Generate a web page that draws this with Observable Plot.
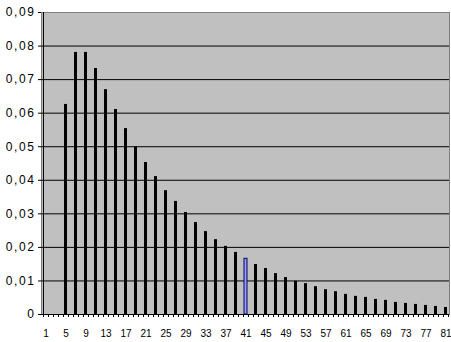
<!DOCTYPE html>
<html>
<head>
<meta charset="utf-8">
<script src="https://cdn.jsdelivr.net/npm/d3@7"></script>
<script src="https://cdn.jsdelivr.net/npm/@observablehq/plot@0.6"></script>
<style>
  html, body { margin: 0; padding: 0; background: white; }
  #chart { width: 451px; height: 342px; }
  .ylab text { letter-spacing: 1.6px; }
</style>
</head>
<body>
<div id="chart"></div>
<script>
const categories = d3.range(1, 82);
const xLabels = [1,5,9,13,17,21,25,29,33,37,41,45,49,53,57,61,65,69,73,77,81];
const yTicks = [0,0.01,0.02,0.03,0.04,0.05,0.06,0.07,0.08,0.09];
const gridValues = [0.01,0.02,0.03,0.04,0.05,0.06,0.07,0.08];
const xs = [5,7,9,11,13,15,17,19,21,23,25,27,29,31,33,35,37,39,41,43,45,47,49,51,53,55,57,59,61,63,65,67,69,71,73,75,77,79,81];
const ys = [0.0626,0.0781,0.0781,0.0733,0.0670,0.0611,0.0554,0.0499,0.0453,0.0411,
            0.0369,0.0337,0.0304,0.0274,0.0247,0.0223,0.0203,0.0185,0.0166,0.0149,
            0.0137,0.0122,0.0110,0.0099,0.0092,0.0083,0.0074,0.0068,0.0060,0.0054,
            0.0051,0.0045,0.0042,0.0036,0.0033,0.0030,0.0027,0.0024,0.0021];
const highlighted = 41;

const data = xs.map((x, i) => ({x, y: ys[i]}));

const W = 451, H = 342, mL = 41, mR = 2, mT = 12, mB = 28;
const step = (W - mL - mR) / categories.length;
const yfmt = d => d === 0 ? "0" : d.toFixed(2).replace(".", ",");

const chart = Plot.plot({
  width: W, height: H,
  marginLeft: mL, marginRight: mR, marginTop: mT, marginBottom: mB,
  style: {fontFamily: "'Liberation Sans', Arial, sans-serif", fontSize: "10px", background: "white", color: "black", overflow: "visible"},
  x: {type: "band", domain: categories, paddingInner: 0.4, paddingOuter: 0.2, align: 0.5, label: null},
  y: {domain: [0, 0.09], label: null},
  marks: [
    Plot.frame({fill: "#c0c0c0", stroke: "#808080"}),
    Plot.ruleY(gridValues, {stroke: "black", strokeWidth: 1}),
    Plot.barY(data, {
      x: "x", y: "y",
      fill: d => d.x === highlighted ? "#9999ff" : "black",
      stroke: d => d.x === highlighted ? "#000060" : "none",
      strokeWidth: 1
    }),
    Plot.ruleY([0], {stroke: "black"}),
    Plot.ruleX([categories[0]], {y1: 0, y2: 0.09, dx: -step / 2, stroke: "black"}),
    Plot.axisY({ticks: yTicks, tickSize: 3, tickPadding: 3, tickFormat: yfmt, fontSize: 12, className: "ylab", label: null}),
    Plot.axisX({ticks: categories, tickSize: 3, tickFormat: () => "", dx: -step / 2, label: null}),
    Plot.axisX({ticks: [categories[categories.length - 1]], tickSize: 3, tickFormat: () => "", dx: step / 2, label: null}),
    Plot.axisX({ticks: xLabels, tickSize: 0, tickPadding: 15, fontSize: 10, label: null})
  ]
});
document.getElementById("chart").appendChild(chart);
</script>
</body>
</html>
